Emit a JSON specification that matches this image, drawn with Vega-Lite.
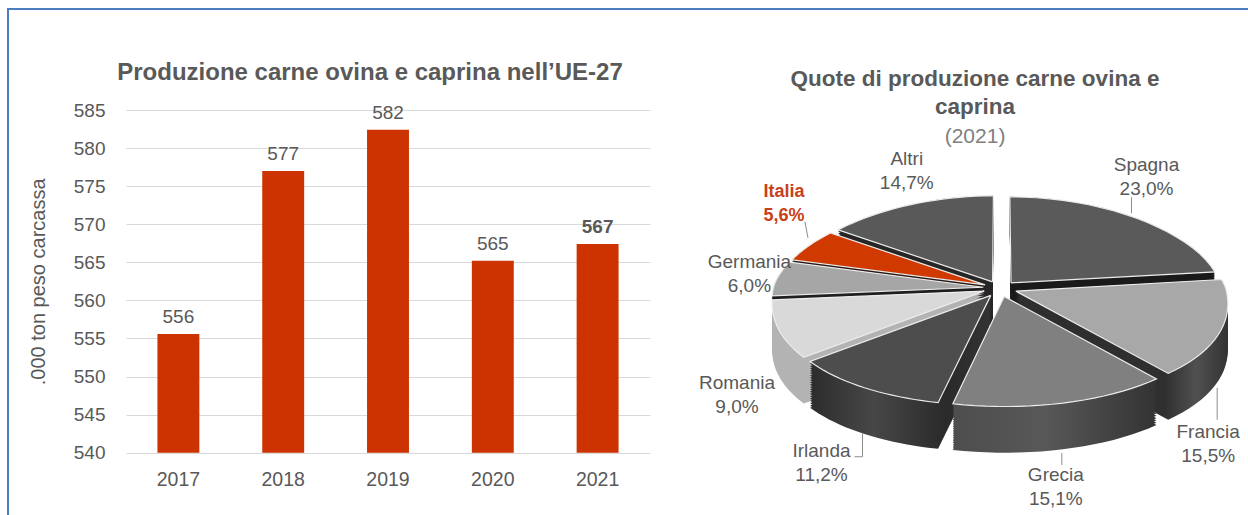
{
  "$schema": "https://vega.github.io/schema/vega-lite/v6.json",
  "autosize": "none",
  "width": 1246,
  "height": 510,
  "padding": {"left": 8, "top": 9, "right": -6, "bottom": -4},
  "background": "#ffffff",
  "config": {
    "font": "Liberation Sans",
    "view": {"stroke": "#4a7ebf", "strokeWidth": 2},
    "text": {"font": "Liberation Sans", "fill": "#595959"},
    "axis": {"labelFont": "Liberation Sans", "titleFont": "Liberation Sans"}
  },
  "datasets": {
    "produzione": [
      {"anno": "2017", "ton": 555.6},
      {"anno": "2018", "ton": 577.0},
      {"anno": "2019", "ton": 582.4},
      {"anno": "2020", "ton": 565.2},
      {"anno": "2021", "ton": 567.4}
    ],
    "quote": [
      {"paese": "Altri", "quota": 14.7, "ordine": 8},
      {"paese": "Spagna", "quota": 23.0, "ordine": 1},
      {"paese": "Italia", "quota": 5.6, "ordine": 7},
      {"paese": "Germania", "quota": 6.0, "ordine": 6},
      {"paese": "Romania", "quota": 9.0, "ordine": 5},
      {"paese": "Francia", "quota": 15.5, "ordine": 2},
      {"paese": "Irlanda", "quota": 11.2, "ordine": 4},
      {"paese": "Grecia", "quota": 15.1, "ordine": 3}
    ]
  },
  "layer": [
    {
      "data": {"name": "produzione"},
      "encoding": {
        "x": {
          "field": "anno", "type": "nominal",
          "scale": {"domain": ["2017", "2018", "2019", "2020", "2021"], "range": [118, 642], "paddingInner": 0.6, "paddingOuter": 0.3},
          "axis": {"title": null, "orient": "bottom", "offset": -66, "labelAngle": 0, "labelFontSize": 19.5, "labelColor": "#595959", "labelPadding": 17, "domain": false, "ticks": false}
        },
        "y": {
          "field": "ton", "type": "quantitative",
          "scale": {"domain": [540, 585], "range": [443.7, 101], "zero": false, "nice": false},
          "axis": {"title": ".000 ton peso carcassa", "orient": "left", "offset": -118, "values": [540, 545, 550, 555, 560, 565, 570, 575, 580, 585], "labelFontSize": 19, "labelColor": "#595959", "labelPadding": 21, "domain": false, "ticks": false, "grid": true, "gridColor": "#d9d9d9", "gridWidth": 1, "titleFontSize": 20, "titleFontWeight": "normal", "titleColor": "#595959", "titlePadding": 25}
        }
      },
      "layer": [
        {"mark": {"type": "bar", "fill": "#cc3300"}, "encoding": {"y2": {"datum": 540}}},
        {
          "transform": [{"filter": "datum.anno != '2021'"}],
          "mark": {"type": "text", "baseline": "bottom", "dy": -7, "fontSize": 19},
          "encoding": {"text": {"field": "ton", "type": "quantitative", "format": ".0f"}}
        },
        {
          "transform": [{"filter": "datum.anno == '2021'"}],
          "mark": {"type": "text", "baseline": "bottom", "dy": -7, "fontSize": 19, "fontWeight": "bold"},
          "encoding": {"text": {"field": "ton", "type": "quantitative", "format": ".0f"}}
        },
        {
          "transform": [
            {"filter": "datum.anno == '2019'"},
            {"calculate": "'Produzione carne ovina e caprina nell’UE-27'", "as": "titolo"},
            {"calculate": "589.9", "as": "quota_titolo"}
          ],
          "mark": {"type": "text", "fontSize": 24, "fontWeight": "bold", "dx": -18},
          "encoding": {
            "y": {"field": "quota_titolo", "type": "quantitative"},
            "text": {"field": "titolo", "type": "nominal"}
          }
        }
      ]
    },
    {
      "data": {"name": "quote"},
      "transform": [
        {"window": [{"op": "sum", "field": "quota", "as": "fine"}], "sort": [{"field": "ordine"}]},
        {"calculate": "(datum.fine - datum.quota / 2) * 2 * PI / 100.1", "as": "medio"},
        {"calculate": "(datum.fine - datum.quota) * 2 * PI / 100.1", "as": "a0"},
        {"calculate": "datum.quota * 2 * PI / 100.1", "as": "ampiezza"},
        {"calculate": "[0,1,2,3,4,5,6,7,8,9,10,11,12,13,14,15,16,17,18,19,20,21,22]", "as": "i"},
        {"flatten": ["i"]},
        {"calculate": "datum.a0 + datum.ampiezza * (datum.i - 1) / 20", "as": "ang"},
        {"calculate": "((datum.i == 0 || datum.i == 22) ? 0 : cos(datum.ang)) + 0.08 * cos(datum.medio)", "as": "pz"},
        {"calculate": "(((datum.i == 0 || datum.i == 22) ? 0 : sin(datum.ang)) + 0.08 * sin(datum.medio)) * (1 - 0.11 * datum.pz)", "as": "px"},
        {"calculate": "datum.pz", "as": "py"},
        {"calculate": "1.08 * cos(datum.medio)", "as": "ly"},
        {"calculate": "1.08 * sin(datum.medio) * (1 - 0.11 * datum.ly)", "as": "lx"},
        {"calculate": "datum.paese + '\\n' + replace(format(datum.quota, '.1f'), '.', ',') + '%'", "as": "etichetta"}
      ],
      "encoding": {
        "x": {"field": "px", "type": "quantitative", "axis": null, "scale": {"domain": [-1, 1], "range": [782, 1202], "zero": false, "nice": false}},
        "y": {"field": "py", "type": "quantitative", "axis": null, "scale": {"domain": [-1, 0, 1], "range": [389, 279, 193], "zero": false, "nice": false}}
      },
      "layer": [
        {
          "transform": [
            {"calculate": "[0,0.05,0.1,0.15,0.2,0.25,0.3,0.35,0.4,0.45,0.5,0.55,0.6,0.65,0.7,0.75,0.8,0.85,0.9,0.95,1]", "as": "k"},
            {"flatten": ["k"]},
            {"calculate": "datum.pz - 0.42 * datum.k", "as": "py"}
          ],
          "encoding": {
            "order": {"field": "i", "type": "quantitative"},
            "detail": {"field": "k", "type": "nominal"}
          },
          "layer": [
            {
              "transform": [{"filter": "datum.paese != 'Francia' && datum.paese != 'Irlanda' && datum.paese != 'Grecia'"}],
              "mark": {"type": "line", "strokeWidth": 0, "clip": false},
              "encoding": {
                "fill": {
                  "field": "paese", "type": "nominal", "legend": null,
                  "scale": {
                    "domain": ["Spagna", "Romania", "Germania", "Italia", "Altri"],
                    "range": ["#1a1a1a", "#b3b3b3", "#1f1f1f", "#2a1a14", "#262626"]
                  }
                }
              }
            },
            {
              "transform": [{"filter": "datum.paese == 'Francia'"}],
              "mark": {"type": "line", "strokeWidth": 0, "clip": false, "fill": {"gradient": "linear", "x1": 0, "x2": 1, "y1": 0, "y2": 0, "stops": [{"offset": 0, "color": "#2e2e2e"}, {"offset": 0.7, "color": "#2f2f2f"}, {"offset": 0.85, "color": "#505050"}, {"offset": 1, "color": "#333333"}]}}
            },
            {
              "transform": [{"filter": "datum.paese == 'Irlanda'"}],
              "mark": {"type": "line", "strokeWidth": 0, "clip": false, "fill": {"gradient": "linear", "x1": 0, "x2": 1, "y1": 0, "y2": 0, "stops": [{"offset": 0, "color": "#2c2c2c"}, {"offset": 0.35, "color": "#474747"}, {"offset": 0.75, "color": "#2a2a2a"}, {"offset": 1, "color": "#333333"}]}}
            },
            {
              "transform": [{"filter": "datum.paese == 'Grecia'"}],
              "mark": {"type": "line", "strokeWidth": 0, "clip": false, "fill": {"gradient": "linear", "x1": 0, "x2": 1, "y1": 0, "y2": 0, "stops": [{"offset": 0, "color": "#4d4d4d"}, {"offset": 0.45, "color": "#585858"}, {"offset": 1, "color": "#333333"}]}}
            }
          ]
        },
        {
          "mark": {"type": "line", "stroke": "#ececec", "strokeWidth": 1.2, "clip": false},
          "encoding": {
            "order": {"field": "i", "type": "quantitative"},
            "fill": {
              "field": "paese", "type": "nominal", "legend": null,
              "scale": {
                "domain": ["Spagna", "Francia", "Grecia", "Irlanda", "Romania", "Germania", "Italia", "Altri"],
                "range": ["#5a5a5a", "#a8a8a8", "#808080", "#4d4d4d", "#d9d9d9", "#a6a6a6", "#d03a00", "#595959"]
              }
            }
          }
        },
        {
          "transform": [{"filter": "datum.i == 0"}],
          "encoding": {
            "x": {"field": "lx", "type": "quantitative", "axis": null, "scale": {"domain": [-1, 1], "range": [782, 1202], "zero": false, "nice": false}},
            "y": {"field": "ly", "type": "quantitative", "axis": null, "scale": {"domain": [-1, 0, 1], "range": [389, 279, 193], "zero": false, "nice": false}},
            "x2": {"field": "lx"},
            "y2": {"field": "ly"}
          },
          "layer": [
            {"transform": [{"filter": "datum.paese == 'Spagna'"}], "mark": {"type": "rule", "stroke": "#8c8c8c", "strokeWidth": 1, "xOffset": -5, "yOffset": -21, "x2Offset": -5, "y2Offset": -5}},
            {"transform": [{"filter": "datum.paese == 'Italia'"}], "mark": {"type": "rule", "stroke": "#8c8c8c", "strokeWidth": 1, "xOffset": -4, "yOffset": -24, "x2Offset": -1, "y2Offset": -8}},
            {"transform": [{"filter": "datum.paese == 'Francia'"}], "mark": {"type": "rule", "stroke": "#8c8c8c", "strokeWidth": 1, "xOffset": -4, "yOffset": 58, "x2Offset": -4, "y2Offset": 90}},
            {"transform": [{"filter": "datum.paese == 'Grecia'"}], "mark": {"type": "rule", "stroke": "#8c8c8c", "strokeWidth": 1, "xOffset": -1, "yOffset": 50, "x2Offset": -1, "y2Offset": 62}},
            {"transform": [{"filter": "datum.paese == 'Irlanda'"}], "mark": {"type": "rule", "stroke": "#8c8c8c", "strokeWidth": 1, "xOffset": -2, "yOffset": 45, "x2Offset": -2, "y2Offset": 69}},
            {"transform": [{"filter": "datum.paese == 'Irlanda'"}], "mark": {"type": "rule", "stroke": "#8c8c8c", "strokeWidth": 1, "xOffset": -10, "yOffset": 69, "x2Offset": -2, "y2Offset": 69}}
          ]
        },
        {
          "transform": [{"filter": "datum.i == 0"}],
          "encoding": {
            "x": {"field": "lx", "type": "quantitative", "axis": null, "scale": {"domain": [-1, 1], "range": [782, 1202], "zero": false, "nice": false}},
            "y": {"field": "ly", "type": "quantitative", "axis": null, "scale": {"domain": [-1, 0, 1], "range": [389, 279, 193], "zero": false, "nice": false}},
            "text": {"field": "etichetta", "type": "nominal"}
          },
          "layer": [
            {"transform": [{"filter": "datum.paese == 'Spagna'"}], "mark": {"type": "text", "lineBreak": "\n", "lineHeight": 24, "fontSize": 19, "dx": 10, "dy": -53}},
            {"transform": [{"filter": "datum.paese == 'Francia'"}], "mark": {"type": "text", "lineBreak": "\n", "lineHeight": 24, "fontSize": 19, "dx": -13, "dy": 102}},
            {"transform": [{"filter": "datum.paese == 'Grecia'"}], "mark": {"type": "text", "lineBreak": "\n", "lineHeight": 24, "fontSize": 19, "dx": -7, "dy": 72}},
            {"transform": [{"filter": "datum.paese == 'Irlanda'"}], "mark": {"type": "text", "lineBreak": "\n", "lineHeight": 24, "fontSize": 19, "dx": -43, "dy": 63}},
            {"transform": [{"filter": "datum.paese == 'Romania'"}], "mark": {"type": "text", "lineBreak": "\n", "lineHeight": 24, "fontSize": 19, "dx": -42, "dy": 53}},
            {"transform": [{"filter": "datum.paese == 'Germania'"}], "mark": {"type": "text", "lineBreak": "\n", "lineHeight": 24, "fontSize": 19, "dx": -28, "dy": -16}},
            {"transform": [{"filter": "datum.paese == 'Italia'"}], "mark": {"type": "text", "lineBreak": "\n", "lineHeight": 24, "fontSize": 18, "fontWeight": "bold", "fill": "#c8401a", "dx": -25, "dy": -54}},
            {"transform": [{"filter": "datum.paese == 'Altri'"}], "mark": {"type": "text", "lineBreak": "\n", "lineHeight": 24, "fontSize": 19, "dx": -3, "dy": -46}}
          ]
        },
        {
          "transform": [
            {"filter": "datum.i == 0 && datum.paese == 'Spagna'"},
            {"calculate": "'Quote di produzione carne ovina e\\ncaprina'", "as": "riga"},
            {"calculate": "-0.119", "as": "tx"},
            {"calculate": "2.43", "as": "ty"}
          ],
          "mark": {"type": "text", "lineBreak": "\n", "lineHeight": 28, "fontSize": 22.5, "fontWeight": "bold"},
          "encoding": {
            "x": {"field": "tx", "type": "quantitative", "axis": null, "scale": {"domain": [-1, 1], "range": [782, 1202], "zero": false, "nice": false}},
            "y": {"field": "ty", "type": "quantitative", "axis": null, "scale": {"domain": [-1, 0, 1], "range": [389, 279, 193], "zero": false, "nice": false}},
            "text": {"field": "riga", "type": "nominal"}
          }
        },
        {
          "transform": [
            {"filter": "datum.i == 0 && datum.paese == 'Spagna'"},
            {"calculate": "'(2021)'", "as": "riga"},
            {"calculate": "-0.119", "as": "tx"},
            {"calculate": "1.756", "as": "ty"}
          ],
          "mark": {"type": "text", "fontSize": 21, "fill": "#7f7f7f"},
          "encoding": {
            "x": {"field": "tx", "type": "quantitative", "axis": null, "scale": {"domain": [-1, 1], "range": [782, 1202], "zero": false, "nice": false}},
            "y": {"field": "ty", "type": "quantitative", "axis": null, "scale": {"domain": [-1, 0, 1], "range": [389, 279, 193], "zero": false, "nice": false}},
            "text": {"field": "riga", "type": "nominal"}
          }
        }
      ],
      "resolve": {"scale": {"fill": "independent"}}
    }
  ],
  "resolve": {
    "scale": {"x": "independent", "y": "independent"},
    "axis": {"x": "independent", "y": "independent"}
  }
}
